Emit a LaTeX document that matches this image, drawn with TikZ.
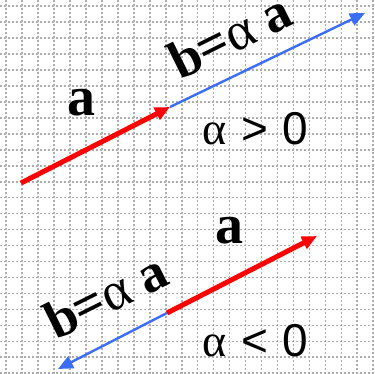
\documentclass[tikz,border=0pt]{standalone}
\usepackage{fontspec}
\setmainfont{Liberation Serif}
\newfontfamily\sansf{Liberation Sans}
\usetikzlibrary{arrows.meta}
\definecolor{gridgray}{HTML}{ADADAD}
\definecolor{vecred}{HTML}{FF0000}
\definecolor{vecblue}{HTML}{3B6EF5}
\tikzset{
  gridline/.style={gridgray, line width=1.7pt, dash pattern=on 2pt off 2pt},
  redvec/.style={vecred, line width=5pt, -{Triangle[length=15pt,width=13pt]}},
  bluevec/.style={vecblue, line width=2.4pt, -{Triangle[length=15pt,width=13pt]}},
  boldlab/.style={font=\fontsize{56}{56}\selectfont\bfseries, inner sep=0pt},
  blab/.style={font=\fontsize{54}{54}\selectfont, inner sep=0pt, rotate=26.5, anchor=base},
  alab/.style={font=\fontsize{46}{46}\selectfont, inner sep=0pt, anchor=base west}
}
\begin{document}
\begin{tikzpicture}[x=1pt,y=-1pt]
\useasboundingbox (0,0) rectangle (374,374);
\fill[white] (0,0) rectangle (374,374);
\foreach \k in {0,...,23} {
  \draw[gridline] ({6+15.97*\k},0) -- ({6+15.97*\k},374);
  \draw[gridline] (0,{6+15.97*\k}) -- (374,{6+15.97*\k});
}
% top
\coordinate (ta) at (21,183);
\coordinate (tb) at (170,107);
\coordinate (tc) at (365,13);
\draw[bluevec] (tb) -- (tc);
\draw[redvec] (ta) -- (tb);
\node[boldlab] (la1) at (81,103) {a};
\node[blab] (lb1) at (238,52) {\textbf{b=}α\hspace{0.25em}\textbf{a}};
\node[alab] (al1) at (202,145) {α\hspace{0.32em}\sansf{}>\hspace{0.32em}0};
% bottom
\coordinate (ba) at (167,313);
\coordinate (bb) at (317,236);
\coordinate (bc) at (58,369);
\draw[bluevec] (ba) -- (bc);
\draw[redvec] (ba) -- (bb);
\node[boldlab] (la2) at (229,231) {a};
\node[blab] (lb2) at (114,312) {\textbf{b=}α\hspace{0.25em}\textbf{a}};
\node[alab] (al2) at (202,356) {α\hspace{0.32em}\sansf{}<\hspace{0.32em}0};
\end{tikzpicture}
\end{document}
